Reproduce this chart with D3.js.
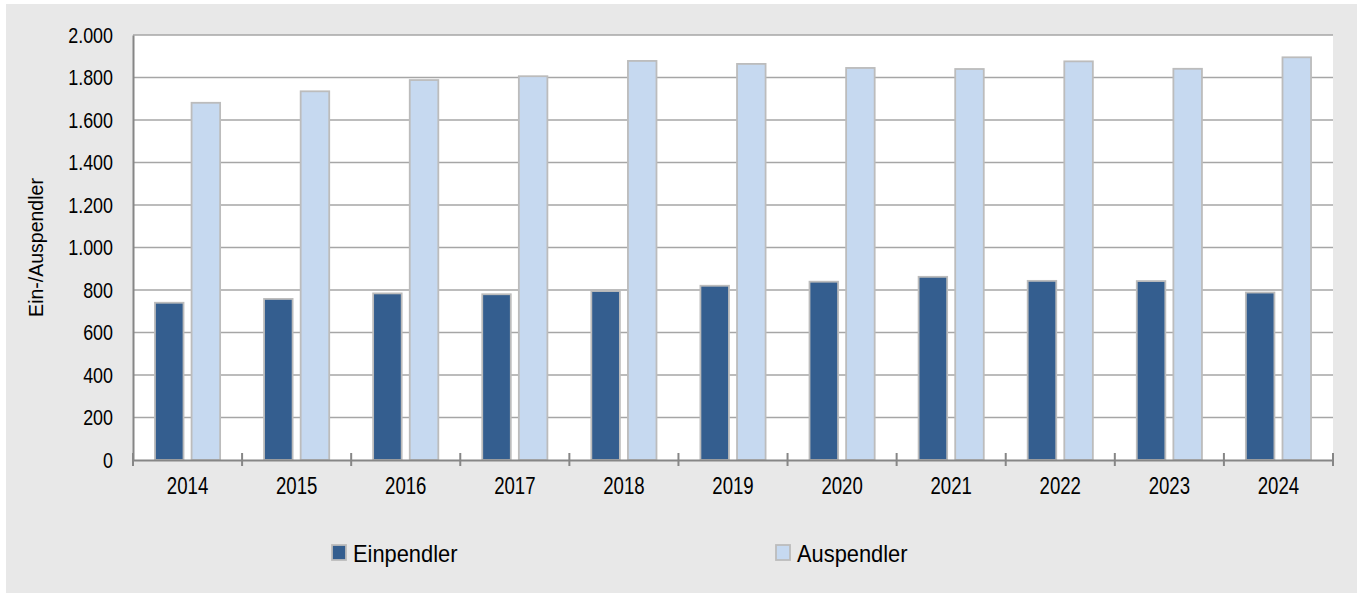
<!DOCTYPE html>
<html>
<head>
<meta charset="utf-8">
<script src="https://cdn.jsdelivr.net/npm/d3@7"></script>
<style>
  html, body { margin: 0; padding: 0; background: #ffffff; }
  svg { display: block; }
  text { font-family: "Liberation Sans", Arial, sans-serif; fill: #000; }
</style>
</head>
<body>
<svg id="chart" width="1357" height="593"></svg>
<script>
const years = ["2014","2015","2016","2017","2018","2019","2020","2021","2022","2023","2024"];
const seriesNames = ["Einpendler", "Auspendler"];
const einpendler = [740, 758, 784, 780, 795, 820, 839, 862, 843, 842, 788];
const auspendler = [1681, 1735, 1788, 1806, 1878, 1864, 1845, 1840, 1876, 1841, 1895];
const yTicks = [0, 200, 400, 600, 800, 1000, 1200, 1400, 1600, 1800, 2000];
const yTitle = "Ein-/Auspendler";
const colors = { "Einpendler": "#345e8f", "Auspendler": "#c6d9f0" };

const svg = d3.select("#chart");
const W = 1357, H = 593;
const plot = { left: 133, right: 1333, top: 35, bottom: 460 };

function condense(sel, factor) {
  sel.each(function() {
    const L = this.getComputedTextLength();
    d3.select(this).attr("textLength", L * factor).attr("lengthAdjust", "spacingAndGlyphs");
  });
}

svg.append("rect").attr("x", 6).attr("y", 4).attr("width", W - 6).attr("height", H - 4).attr("fill", "#e8e8e8");
svg.append("rect").attr("x", plot.left).attr("y", plot.top)
  .attr("width", plot.right - plot.left).attr("height", plot.bottom - plot.top).attr("fill", "#ffffff");

const x = d3.scaleBand().domain(years).range([plot.left, plot.right]).padding(0);
const x1 = d3.scaleBand().domain(seriesNames).range([0, x.bandwidth()]).paddingInner(0.22).paddingOuter(0.6);
const y = d3.scaleLinear().domain([0, 2000]).range([plot.bottom, plot.top]);

// gridlines
svg.append("g").selectAll("line").data(yTicks.filter(d => d > 0)).join("line")
  .attr("x1", plot.left).attr("x2", plot.right)
  .attr("y1", d => y(d)).attr("y2", d => y(d))
  .attr("stroke", "#a6a6a6").attr("stroke-width", 1.5);

// bars
const data = years.map((yr, i) => ({ year: yr, values: [
  { key: "Einpendler", value: einpendler[i] },
  { key: "Auspendler", value: auspendler[i] }
]}));

const groups = svg.append("g").selectAll("g").data(data).join("g")
  .attr("transform", d => `translate(${x(d.year)},0)`);
groups.selectAll("rect").data(d => d.values).join("rect")
  .attr("x", d => x1(d.key))
  .attr("width", x1.bandwidth())
  .attr("y", d => y(d.value))
  .attr("height", d => y(0) - y(d.value))
  .attr("fill", d => colors[d.key])
  .attr("stroke", "#bcbcbc").attr("stroke-width", 1.8);

// y axis
const yAxis = d3.axisLeft(y).tickValues(yTicks).tickSize(0).tickPadding(20)
  .tickFormat(d => d3.format(",")(d).replace(/,/g, "."));
const gy = svg.append("g").attr("transform", `translate(${plot.left},0)`).call(yAxis);
gy.select(".domain").attr("stroke", "#868686").attr("stroke-width", 2);
gy.selectAll("text").attr("font-size", 22.5).attr("font-family", null).attr("fill", "#000");
condense(gy.selectAll("text"), 0.795);

// x axis
const xAxis = d3.axisBottom(x).tickSize(0).tickPadding(17);
const gx = svg.append("g").attr("transform", `translate(0,${plot.bottom})`).call(xAxis);
gx.select(".domain").attr("stroke", "#868686").attr("stroke-width", 2);
gx.selectAll("text").attr("font-size", 24).attr("font-family", null).attr("fill", "#000");
condense(gx.selectAll("text"), 0.775);
// category boundary ticks
const bounds = years.map(d => x(d)).concat([plot.right]);
gx.append("g").selectAll("line").data(bounds).join("line")
  .attr("x1", d => d).attr("x2", d => d).attr("y1", -7).attr("y2", 6)
  .attr("stroke", "#868686").attr("stroke-width", 2);

// y title
svg.append("text")
  .attr("transform", `translate(43,${(plot.top + plot.bottom) / 2}) rotate(-90)`)
  .attr("text-anchor", "middle").attr("font-size", 19.5).text(yTitle);

// legend
const legendItems = [
  { key: "Einpendler", sx: 332, tx: 353 },
  { key: "Auspendler", sx: 776, tx: 797 }
];
const lg = svg.append("g").selectAll("g").data(legendItems).join("g");
lg.append("rect").attr("x", d => d.sx).attr("y", 545).attr("width", 14).attr("height", 15)
  .attr("fill", d => colors[d.key]).attr("stroke", "#bcbcbc").attr("stroke-width", 1.8);
const lt = lg.append("text").attr("x", d => d.tx).attr("y", 562).attr("font-size", 24).text(d => d.key);
condense(lt, 0.91);
</script>
</body>
</html>
